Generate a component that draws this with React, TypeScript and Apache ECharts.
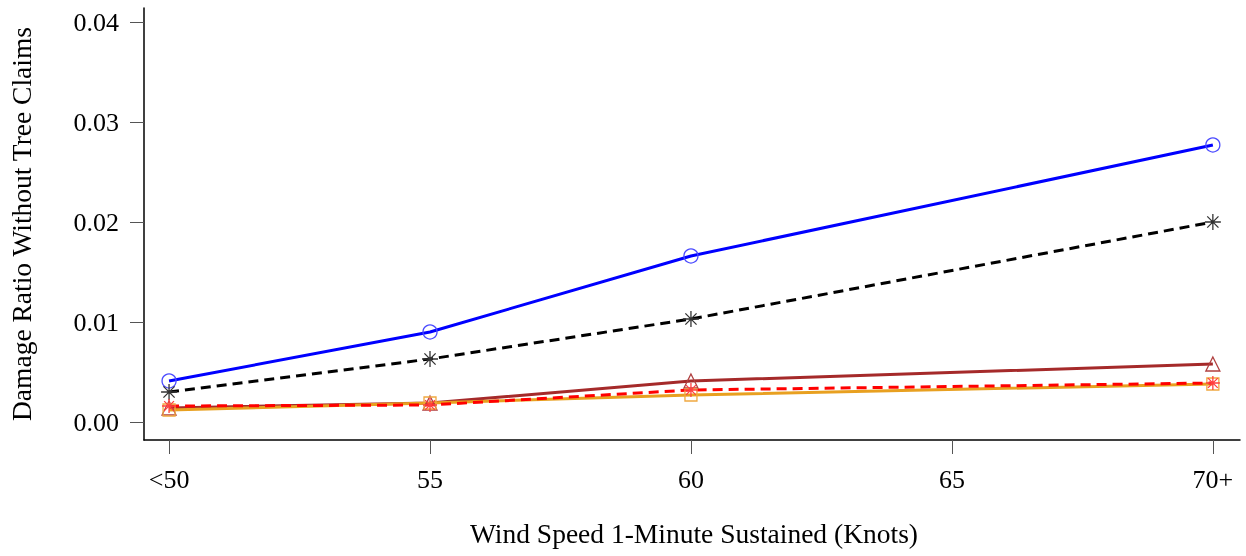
import React, { useEffect, useRef } from "react";
import * as echarts from "echarts";

const xTicks = [50, 55, 60, 65, 70];
const xTickLabels: Record<number, string> = { 50: "<50", 55: "55", 60: "60", 65: "65", 70: "70+" };
const yTicks = [0, 0.01, 0.02, 0.03, 0.04];
const xValues = [50, 55, 60, 70];
const blueValues = [0.0041, 0.009, 0.0166, 0.0277];
const blackValues = [0.003, 0.0063, 0.0103, 0.02];
const brownValues = [0.0014, 0.0019, 0.0041, 0.0058];
const orangeValues = [0.0012, 0.0019, 0.0027, 0.0038];
const redValues = [0.0016, 0.0017, 0.0032, 0.0039];

const asterisk = "path://M-1,0L1,0M0,-1L0,1M-0.7,-0.7L0.7,0.7M-0.7,0.7L0.7,-0.7";
const font = "'Liberation Serif', 'DejaVu Serif', serif";

function mk(values: number[], color: string, dashed: boolean, symbol: string, size: number, markColor?: string) {
  return {
    type: "line",
    data: xValues.map((x, i) => [x, values[i]]),
    symbol,
    symbolSize: size,
    showAllSymbol: true,
    lineStyle: { color, width: 3, type: dashed ? [10, 6] : "solid" },
    itemStyle: { color: "rgba(0,0,0,0)", borderColor: markColor || color, borderWidth: 1.3 },
    emphasis: { disabled: true },
  };
}

export default function App() {
  const ref = useRef<HTMLDivElement>(null);
  useEffect(() => {
    const chart = echarts.init(ref.current!, null, { renderer: "svg" });
    chart.setOption({
      animation: false,
      grid: { left: 144, top: 8, right: 6, bottom: 116, outerBoundsMode: "none", containLabel: false },
      xAxis: {
        type: "value",
        min: 49.52,
        max: 70.52,
        name: "Wind Speed 1-Minute Sustained (Knots)",
        nameLocation: "middle",
        nameGap: 79,
        nameTextStyle: { fontFamily: font, fontSize: 27.5, color: "#000", padding: [0, 0, 0, 4] },
        axisLine: { show: true, onZero: false, lineStyle: { color: "#000", width: 1.5 } },
        axisTick: { show: true, length: 14, customValues: xTicks, lineStyle: { color: "#555", width: 1 } },
        axisLabel: {
          customValues: xTicks,
          margin: 26,
          fontFamily: font,
          fontSize: 26,
          color: "#000",
          formatter: (v: number) => xTickLabels[v] ?? String(v),
        },
        splitLine: { show: false },
      },
      yAxis: {
        type: "value",
        min: -0.0018,
        max: 0.0414,
        name: "Damage Ratio Without Tree Claims",
        nameLocation: "middle",
        nameGap: 109,
        nameTextStyle: { fontFamily: font, fontSize: 27.5, color: "#000" },
        axisLine: { show: true, onZero: false, lineStyle: { color: "#000", width: 1.5 } },
        axisTick: { show: true, length: 14, customValues: yTicks, lineStyle: { color: "#555", width: 1 } },
        axisLabel: {
          customValues: yTicks,
          margin: 25,
          fontFamily: font,
          fontSize: 26,
          color: "#000",
          formatter: (v: number) => v.toFixed(2),
        },
        splitLine: { show: false },
      },
      series: [
        mk(blueValues, "#0000ff", false, "circle", 14, "#4a4aff"),
        mk(blackValues, "#000000", true, asterisk, 16, "#333"),
        mk(brownValues, "#a52a2a", false, "triangle", 14, "#b04040"),
        mk(orangeValues, "#e8a020", false, "rect", 12, "#f0a840"),
        mk(redValues, "#ff0000", true, asterisk, 14, "#ff4040"),
      ],
    });
    return () => chart.dispose();
  }, []);
  return <div ref={ref} style={{ position: "fixed", left: 0, top: 0, width: 1246, height: 556 }} />;
}
